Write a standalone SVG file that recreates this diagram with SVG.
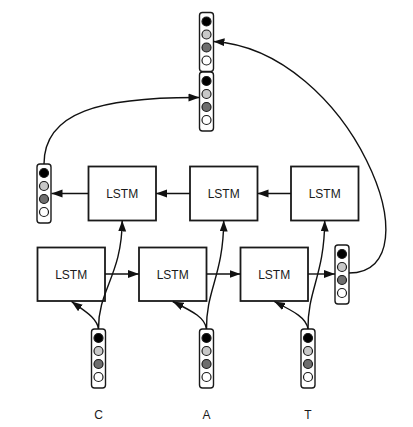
<svg xmlns="http://www.w3.org/2000/svg" width="413" height="427" viewBox="0 0 413 427">
<style>
.box{fill:#fff;stroke:#1a1a1a;stroke-width:1.8}
.lbl{font-family:"Liberation Sans",Arial,sans-serif;font-size:12px;fill:#1a1a1a;text-anchor:middle}
.vec{fill:#fff;stroke:#1a1a1a;stroke-width:1.4}
.c{stroke:#1a1a1a;stroke-width:1.2}
.c1{fill:#000}.c2{fill:#c8c8c8}.c3{fill:#6e6e6e}.c4{fill:#fff}
.edge{fill:none;stroke:#111;stroke-width:1.4;marker-end:url(#ah)}
</style>
<defs>
<marker id="ah" markerUnits="userSpaceOnUse" markerWidth="12" markerHeight="9" refX="11" refY="4" orient="auto">
<path d="M0,0 L11,4 L0,8 z" fill="#111"/>
</marker>
<g id="vector">
<rect class="vec" x="-7" y="0" width="14" height="59" rx="3"/>
<circle class="c c1" cx="0" cy="9" r="4.5"/>
<circle class="c c2" cx="0" cy="22" r="4.5"/>
<circle class="c c3" cx="0" cy="35" r="4.5"/>
<circle class="c c4" cx="0" cy="48" r="4.5"/>
</g>
</defs>
<rect width="413" height="427" fill="#fff"/>
<g id="out-top"><use href="#vector" x="206.5" y="12.5"/></g>
<g id="out-bottom"><use href="#vector" x="206.5" y="72"/></g>
<g id="vec-left"><use href="#vector" x="44" y="164"/></g>
<g id="vec-right"><use href="#vector" x="342" y="245"/></g>
<g id="in-c"><use href="#vector" x="98.5" y="329"/></g>
<g id="in-a"><use href="#vector" x="206.5" y="329"/></g>
<g id="in-t"><use href="#vector" x="308" y="329"/></g>
<g id="lstm-b1"><rect class="box" x="37.5" y="247.5" width="67.5" height="53.5"/><text class="lbl" x="71.2" y="278.5">LSTM</text></g>
<g id="lstm-b2"><rect class="box" x="139" y="247.5" width="67.5" height="53.5"/><text class="lbl" x="172.7" y="278.5">LSTM</text></g>
<g id="lstm-b3"><rect class="box" x="240.5" y="247.5" width="67.5" height="53.5"/><text class="lbl" x="274.2" y="278.5">LSTM</text></g>
<g id="lstm-t1"><rect class="box" x="88.5" y="166.5" width="67.5" height="54"/><text class="lbl" x="122.2" y="197.5">LSTM</text></g>
<g id="lstm-t2"><rect class="box" x="190" y="166.5" width="67.5" height="54"/><text class="lbl" x="223.7" y="197.5">LSTM</text></g>
<g id="lstm-t3"><rect class="box" x="291" y="166.5" width="67.5" height="54"/><text class="lbl" x="324.7" y="197.5">LSTM</text></g>
<g id="labels">
<text class="lbl" x="98.5" y="419">C</text>
<text class="lbl" x="206.5" y="419">A</text>
<text class="lbl" x="308" y="419">T</text>
</g>
<g id="connectors">
<path class="edge" d="M105,274 L139,274"/>
<path class="edge" d="M206.5,274 L240.5,274"/>
<path class="edge" d="M308,274 L335,274"/>
<path class="edge" d="M291,193.5 L257.5,193.5"/>
<path class="edge" d="M190,193.5 L156,193.5"/>
<path class="edge" d="M88.5,193.5 L51.5,193.5"/>
<path class="edge" d="M98.5,329 C97,318 86,312 71.5,301.5"/>
<path class="edge" d="M206.5,329 C205,318 194,312 172.7,301.5"/>
<path class="edge" d="M308,329 C306.5,318 295,312 274.2,301.5"/>
<path class="edge" d="M98.5,329 C98,290 122,275 122.2,220.5"/>
<path class="edge" d="M206.5,329 C206,290 223.5,275 223.7,220.5"/>
<path class="edge" d="M308,329 C307.5,290 324.5,275 324.7,220.5"/>
<path class="edge" d="M44,164 C44,112 100,97 199.5,97.5"/>
<path class="edge" d="M349,273 C440,273 350,50 213.5,41.5"/>
</g>
</svg>
